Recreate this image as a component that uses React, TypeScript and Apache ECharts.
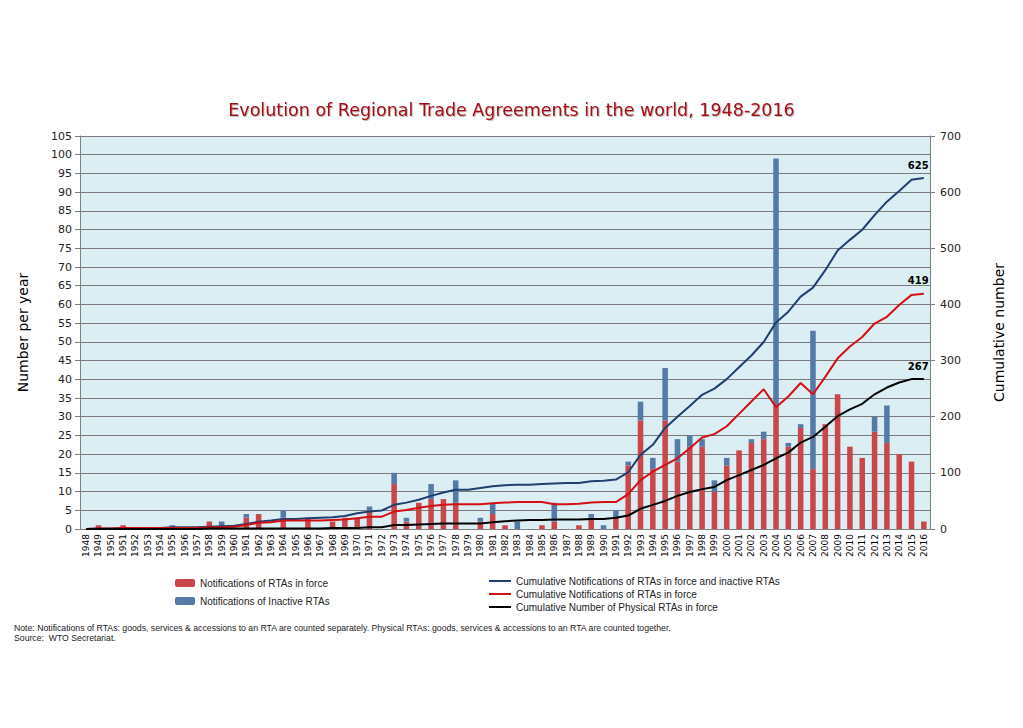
import React, { useEffect, useRef } from "react";
import * as echarts from "echarts";

const years: string[] = [];
for (let y = 1948; y <= 2016; y++) years.push(String(y));

// Notifications of RTAs in force (per year)
const inForce = [
  0, 1, 0, 1, 0, 0, 0, 0, 0, 0, // 1948-1957
  2, 0, 0, 3, 4, 0, 3, 0, 3, 0, // 1958-1967
  2, 3, 3, 5, 0, 12, 2, 7, 8, 8, // 1968-1977
  7, 0, 2, 4, 1, 0, 0, 1, 2, 0, // 1978-1987
  1, 3, 0, 3, 17, 29, 16, 29, 18, 22, // 1988-1997
  22, 10, 17, 21, 23, 24, 33, 22, 27, 16, // 1998-2007
  28, 36, 22, 19, 26, 23, 20, 18, 2, // 2008-2016
];

// Notifications of inactive RTAs (per year)
const inactive = [
  0, 0, 0, 0, 0, 0, 0, 1, 0, 0, // 1948-1957
  0, 2, 0, 1, 0, 0, 2, 0, 0, 0, // 1958-1967
  0, 0, 0, 1, 0, 3, 1, 0, 4, 0, // 1968-1977
  6, 0, 1, 3, 0, 2, 0, 0, 5, 0, // 1978-1987
  0, 1, 1, 2, 1, 5, 3, 14, 6, 3, // 1988-1997
  2, 3, 2, 0, 1, 2, 66, 1, 1, 37, // 1998-2007
  0, 0, 0, 0, 4, 10, 0, 0, 0, // 2008-2016
];

// Cumulative notifications of RTAs in force and inactive RTAs
const cumAll = [
  0, 1, 1, 2, 2, 2, 2, 3, 3, 3,
  4, 5, 6, 9, 13, 15, 18, 18, 19, 20,
  21, 23, 28, 31, 33, 43, 47, 52, 59, 65,
  70, 70, 73, 76, 78, 79, 79, 80, 81, 82,
  82, 85, 86, 88, 101, 132, 150, 180, 200, 219,
  239, 250, 267, 288, 309, 333, 368, 387, 414, 430,
  461, 496, 515, 533, 559, 583, 602, 622, 625,
];

// Cumulative notifications of RTAs in force
const cumInForce = [
  0, 1, 1, 2, 2, 2, 2, 2, 2, 2,
  3, 3, 4, 7, 11, 12, 15, 15, 15, 15,
  16, 17, 19, 22, 22, 31, 34, 38, 41, 43,
  44, 44, 44, 46, 47, 48, 48, 48, 44, 44,
  45, 47, 48, 48, 62, 87, 102, 114, 126, 144,
  163, 169, 183, 205, 227, 249, 217, 236, 260, 240,
  271, 304, 325, 342, 366, 378, 399, 417, 419,
];

// Cumulative number of physical RTAs in force
const cumPhysical = [
  0, 0, 0, 0, 0, 0, 0, 0, 0, 0,
  1, 1, 1, 1, 1, 1, 1, 1, 1, 1,
  2, 2, 2, 3, 3, 7, 7, 8, 9, 10,
  10, 10, 10, 12, 14, 15, 16, 16, 17, 17,
  17, 18, 18, 20, 24, 36, 43, 50, 59, 66,
  71, 75, 87, 96, 105, 114, 126, 136, 154, 164,
  182, 201, 213, 223, 240, 252, 261, 267, 267,
];

const leftTicks = { min: 0, max: 105, interval: 5 };
const rightTicks = { min: 0, max: 700, interval: 100 };

const FONT = "DejaVu Sans, Verdana, sans-serif";
const LEG_FONT = "Liberation Sans Narrow, Liberation Sans, Arial, sans-serif";

const endLabel = {
  show: true,
  offset: [-24, -13],
  fontWeight: "bold",
  fontSize: 10,
  color: "#000",
  fontFamily: FONT,
  formatter: (p: any) => String(p.value),
};

export default function App() {
  const ref = useRef<HTMLDivElement>(null);
  useEffect(() => {
    if (!ref.current) return;
    const chart = echarts.init(ref.current, undefined, { renderer: "svg" });
    chart.setOption({
      animation: false,
      backgroundColor: "#ffffff",
      textStyle: { fontFamily: FONT },
      title: {
        text: "Evolution of Regional Trade Agreements in the world, 1948-2016",
        left: "center",
        top: 96,
        textStyle: {
          color: "#a30f14",
          fontSize: 17.5,
          fontWeight: "normal",
          fontFamily: FONT,
          textShadowColor: "rgba(0,0,0,0.25)",
          textShadowBlur: 1,
          textShadowOffsetX: 1,
          textShadowOffsetY: 1,
        },
      },
      grid: { left: 80, right: 93, top: 136, bottom: 199, backgroundColor: "#daeef3", show: true, borderWidth: 0 },
      legend: [
        {
          orient: "vertical",
          left: 170,
          top: 573,
          itemWidth: 20,
          itemHeight: 8,
          itemGap: 8,
          textStyle: { fontSize: 10, color: "#222", fontFamily: LEG_FONT },
          data: ["Notifications of RTAs in force", "Notifications of Inactive RTAs"],
        },
        {
          orient: "vertical",
          left: 484,
          top: 570,
          itemWidth: 22,
          itemHeight: 2,
          itemGap: 1,
          textStyle: { fontSize: 10, color: "#222", fontFamily: LEG_FONT, lineHeight: 12 },
          data: [
            { name: "Cumulative Notifications of RTAs in force and inactive RTAs", icon: "rect" },
            { name: "Cumulative Notifications of RTAs in force", icon: "rect" },
            { name: "Cumulative Number of Physical RTAs in force", icon: "rect" },
          ],
        },
      ],
      xAxis: {
        type: "category",
        data: years,
        boundaryGap: true,
        axisLine: { lineStyle: { color: "#808080" } },
        axisTick: { lineStyle: { color: "#808080" }, length: 4 },
        axisLabel: { rotate: 90, fontSize: 9, color: "#000", interval: 0, margin: 5, fontFamily: FONT },
      },
      yAxis: [
        {
          type: "value",
          ...leftTicks,
          name: "Number per year",
          nameLocation: "middle",
          nameGap: 50,
          nameTextStyle: { fontSize: 14, color: "#000", fontFamily: FONT },
          axisLine: { show: true, lineStyle: { color: "#808080" } },
          axisTick: { show: true, inside: false, length: 5, lineStyle: { color: "#808080" } },
          axisLabel: { fontSize: 11, color: "#222", margin: 8, fontFamily: FONT },
          splitLine: { show: true, lineStyle: { color: "#7a7a7a", width: 1 } },
        },
        {
          type: "value",
          ...rightTicks,
          name: "Cumulative number",
          nameLocation: "middle",
          nameGap: 62,
          nameRotate: 90,
          nameTextStyle: { fontSize: 14, color: "#000", fontFamily: FONT },
          axisLine: { show: true, lineStyle: { color: "#808080" } },
          axisTick: { show: true, length: 5, lineStyle: { color: "#808080" } },
          axisLabel: { fontSize: 11, color: "#222", margin: 10, fontFamily: FONT },
          splitLine: { show: false },
        },
      ],
      series: [
        {
          name: "Notifications of RTAs in force",
          type: "bar",
          stack: "n",
          data: inForce,
          barWidth: "45%",
          itemStyle: { color: "#c9474a" },
        },
        {
          name: "Notifications of Inactive RTAs",
          type: "bar",
          stack: "n",
          data: inactive,
          barWidth: "45%",
          itemStyle: { color: "#557aa5" },
        },
        {
          name: "Cumulative Notifications of RTAs in force and inactive RTAs",
          type: "line",
          yAxisIndex: 1,
          data: cumAll,
          symbol: "none",
          endLabel,
          lineStyle: { color: "#1f3f70", width: 2 },
          itemStyle: { color: "#1f3f70" },
        },
        {
          name: "Cumulative Notifications of RTAs in force",
          type: "line",
          yAxisIndex: 1,
          data: cumInForce,
          symbol: "none",
          endLabel,
          lineStyle: { color: "#d40f14", width: 2 },
          itemStyle: { color: "#d40f14" },
        },
        {
          name: "Cumulative Number of Physical RTAs in force",
          type: "line",
          yAxisIndex: 1,
          data: cumPhysical,
          symbol: "none",
          endLabel,
          lineStyle: { color: "#000000", width: 2 },
          itemStyle: { color: "#000000" },
        },
      ],
      graphic: [
        {
          type: "text",
          left: 14,
          top: 623,
          style: {
            text:
              "Note: Notifications of RTAs: goods, services & accessions to an RTA are counted separately. Physical RTAs: goods, services & accessions to an RTA are counted together.",
            fontSize: 8.7,
            fill: "#222",
            fontFamily: LEG_FONT,
          },
        },
        {
          type: "text",
          left: 14,
          top: 633,
          style: { text: "Source:  WTO Secretariat.", fontSize: 8.7, fill: "#222", fontFamily: LEG_FONT },
        },
      ],
    });
    return () => chart.dispose();
  }, []);
  return <div ref={ref} style={{ width: 1023, height: 728, position: "absolute", left: 0, top: 0 }} />;
}
